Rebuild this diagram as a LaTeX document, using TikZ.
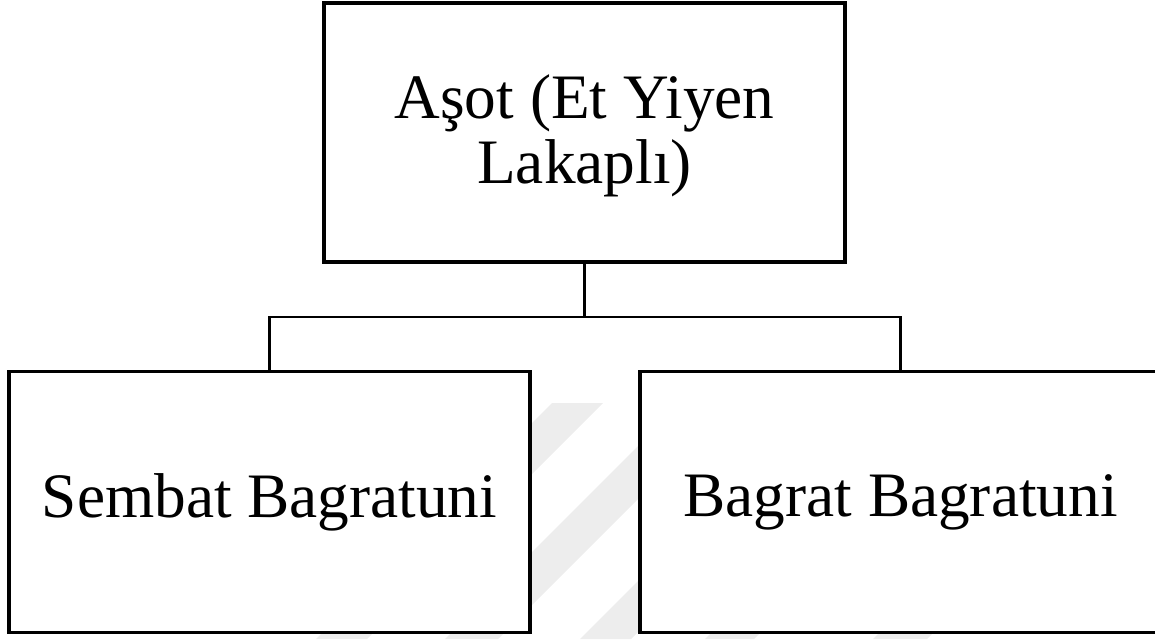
\documentclass[tikz,border=0pt]{standalone}
\usepackage{fontspec}
\setmainfont{Liberation Serif}
\usepackage{tikz}
\definecolor{watergray}{HTML}{EDEDED}
\newcommand{\boxfont}{\fontsize{18pt}{18.4pt}\selectfont\lineskiplimit=-20pt\relax}

\tikzset{
  person/.style={draw,line width=0.95pt,fill=white,minimum width=5.21cm,
    minimum height=2.61cm,align=center,inner sep=0pt,font=\boxfont},
  link/.style={line width=0.7pt}
}

\begin{document}
\begin{tikzpicture}[x=0.01cm,y=-0.01cm]
        \useasboundingbox (0,0) rectangle (1155,639);
        \clip (0,0) rectangle (1155,639);

        % faint watermark stripes
        \foreach \a/\b in {955/1006,1084/1137,1219/1270,1344/1393,1512/1566}
          \fill[watergray] (\a-403,403) -- (\b-403,403) -- (\b-639,639) -- (\a-639,639) -- cycle;

        \path
        (584.5,132.5) node[person,minimum height=2.59cm] (asot) {\rule{0pt}{14.2pt}Aşot (Et Yiyen\\Lakaplı)}
        (269.5,502) node[person] (sembat) {Sembat Bagratuni}
        (900.5,502) node[person] (bagrat) {Bagrat Bagratuni}
        (584.5,317) coordinate (fork)
        ;

        \draw[link] (asot.south) -- (fork);
        \draw[link] (fork) -| (sembat.north);
        \draw[link] (fork) -| (bagrat.north);
      \end{tikzpicture}
\end{document}
